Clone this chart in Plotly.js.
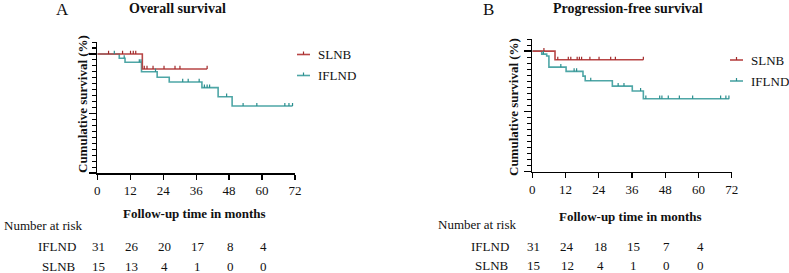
<!DOCTYPE html>
<html>
<head>
<meta charset="utf-8">
<script src="https://cdn.plot.ly/plotly-3.0.1.min.js"></script>
<style>html,body{margin:0;padding:0;background:#fff;}#chart{width:789px;height:273px;}</style>
</head>
<body>
<div id="chart"></div>
<script>
// ---------- data ----------
// Overall survival (panel A)
var osSlnbTimes = [0, 16.4, 40.0];
var osSlnbSurv  = [100, 87.4, 87.4];
var osSlnbCens  = [4.1, 9.2, 12.1, 13.1, 14.0, 17.1, 18.1, 20.3, 24.3, 28.3, 30.1, 40.0];
var osIflndTimes = [0, 8.0, 10.1, 16.1, 21.8, 26.2, 38.1, 44.0, 49.1, 71.1];
var osIflndSurv  = [100, 96.4, 93.0, 85.1, 80.4, 76.5, 71.7, 64.1, 56.3, 56.3];
var osIflndCens  = [6.2, 9.8, 15.3, 15.9, 21.2, 31.1, 33.1, 37.1, 39.0, 40.0, 40.9, 47.1, 53.1, 58.1, 68.3, 69.8, 71.1];

// Progression-free survival (panel B)
var pfsSlnbTimes = [0, 8.2, 40.1];
var pfsSlnbSurv  = [100, 92.8, 92.8];
var pfsSlnbCens  = [4.2, 9.2, 13.0, 13.9, 16.2, 17.0, 17.8, 20.8, 24.1, 28.3, 30.0, 40.1];
var pfsIflndTimes = [0, 3.4, 5.2, 6.0, 12.2, 18.3, 19.1, 28.9, 36.1, 40.1, 71.1];
var pfsIflndSurv  = [100, 97.5, 95.9, 86.7, 83.2, 79.3, 75.4, 71.0, 66.9, 60.5, 60.5];
var pfsIflndCens  = [4.0, 10.3, 15.1, 16.0, 21.1, 31.0, 33.1, 39.1, 41.0, 46.0, 46.8, 49.1, 53.1, 57.9, 68.0, 69.9, 71.0];

// numbers at risk
var riskTimes = [0, 12, 24, 36, 48, 60];
var osRiskIflnd = [31, 26, 20, 17, 8, 4];
var osRiskSlnb  = [15, 13, 4, 1, 0, 0];
var pfsRiskIflnd = [31, 24, 18, 15, 7, 4];
var pfsRiskSlnb  = [15, 12, 4, 1, 0, 0];

var groupNames = ['SLNB', 'IFLND'];
var xTickVals = [0, 12, 24, 36, 48, 60, 72];

// ---------- styles ----------
var RED = '#b84545', RED_T = '#a02a2a';
var TEAL = '#4ea6a6', TEAL_T = '#2a8d8d';
var FONT = 'Liberation Serif';
var W = 789, H = 273;
function px(x) { return x / W; }
function py(y) { return 1 - y / H; }

function levelAt(times, surv, t) {
  var s = surv[0];
  for (var i = 0; i < times.length; i++) { if (times[i] <= t) s = surv[i]; }
  return s;
}
function stepTrace(times, surv, color, xa, ya) {
  return {x: times, y: surv, type: 'scatter', mode: 'lines', line: {shape: 'hv', color: color, width: 1.6},
          xaxis: xa, yaxis: ya, showlegend: false, hoverinfo: 'skip'};
}
function censTrace(cens, times, surv, color, xa, ya) {
  var xs = [], ys = [];
  cens.forEach(function (t) {
    var s = levelAt(times, surv, t);
    xs.push(t, t, null); ys.push(s, s + 2.6, null);
  });
  return {x: xs, y: ys, type: 'scatter', mode: 'lines', line: {color: color, width: 1.2},
          xaxis: xa, yaxis: ya, showlegend: false, hoverinfo: 'skip'};
}

var data = [
  stepTrace(osIflndTimes, osIflndSurv, TEAL, 'x', 'y'),
  stepTrace(osSlnbTimes, osSlnbSurv, RED, 'x', 'y'),
  censTrace(osIflndCens, osIflndTimes, osIflndSurv, TEAL_T, 'x', 'y'),
  censTrace(osSlnbCens, osSlnbTimes, osSlnbSurv, RED_T, 'x', 'y'),
  stepTrace(pfsIflndTimes, pfsIflndSurv, TEAL, 'x2', 'y2'),
  stepTrace(pfsSlnbTimes, pfsSlnbSurv, RED, 'x2', 'y2'),
  censTrace(pfsIflndCens, pfsIflndTimes, pfsIflndSurv, TEAL_T, 'x2', 'y2'),
  censTrace(pfsSlnbCens, pfsSlnbTimes, pfsSlnbSurv, RED_T, 'x2', 'y2')
];

function xAxis(domain, anchor) {
  return {domain: domain, anchor: anchor, range: [0, 72], tickmode: 'array', tickvals: xTickVals,
    ticks: 'outside', ticklen: 5, tickwidth: 1.3, tickcolor: '#000', showline: true, linecolor: '#000', linewidth: 1.5,
    showgrid: false, zeroline: false, showticklabels: true, tickfont: {family: FONT, size: 13, color: '#111'}, fixedrange: true};
}
function yAxis(domain, anchor) {
  return {domain: domain, anchor: anchor, range: [0, 110.05], tickmode: 'linear', tick0: 0, dtick: 50,
    ticks: 'outside', ticklen: 7, tickwidth: 1.3, tickcolor: '#000',
    minor: {ticks: 'outside', dtick: 5, tick0: 0, ticklen: 4, tickwidth: 1.1, tickcolor: '#000', showgrid: false},
    showline: true, linecolor: '#000', linewidth: 1.5, showgrid: false, zeroline: false, showticklabels: false, fixedrange: true};
}

var ann = [];
function txt(text, x, y, opts) {
  var a = {text: text, x: px(x), y: py(y), xref: 'paper', yref: 'paper', showarrow: false,
    font: {family: FONT, size: 13, color: '#111'}, xanchor: 'center', yanchor: 'middle'};
  for (var k in opts) a[k] = opts[k];
  ann.push(a);
}
// panel letters & titles
txt('A', 62, 10, {font: {family: FONT, size: 17, color: '#111'}});
txt('<b>Overall survival</b>', 177, 8, {font: {family: FONT, size: 14, color: '#111'}});
txt('B', 488, 10, {font: {family: FONT, size: 17, color: '#111'}});
txt('<b>Progression-free survival</b>', 628, 8, {font: {family: FONT, size: 14, color: '#111'}});
// axis titles
txt('<b>Cumulative survival (%)</b>', 82, 104, {textangle: -90, font: {family: FONT, size: 13, color: '#111'}});
txt('<b>Cumulative survival (%)</b>', 514, 107, {textangle: -90, font: {family: FONT, size: 13, color: '#111'}});
txt('<b>Follow-up time in months</b>', 194, 213, {font: {family: FONT, size: 13, color: '#111'}});
txt('<b>Follow-up time in months</b>', 630, 216, {font: {family: FONT, size: 13, color: '#111'}});
// number at risk
txt('Number at risk', 2, 225, {xanchor: 'left'});
txt('Number at risk', 436, 224, {xanchor: 'left'});
txt(groupNames[1], 78, 246, {xanchor: 'right'});
txt(groupNames[0], 78, 266, {xanchor: 'right'});
txt(groupNames[1], 511, 246, {xanchor: 'right'});
txt(groupNames[0], 511, 265, {xanchor: 'right'});
function riskRow(vals, xref, y, dx) {
  vals.forEach(function (v, i) {
    ann.push({text: String(v), x: riskTimes[i] + dx, xref: xref, y: py(y), yref: 'paper', showarrow: false,
      font: {family: FONT, size: 13, color: '#111'}, xanchor: 'center', yanchor: 'middle'});
  });
}
riskRow(osRiskIflnd, 'x', 246, 0.6);
riskRow(osRiskSlnb, 'x', 266, 0.6);
riskRow(pfsRiskIflnd, 'x2', 246, 0.6);
riskRow(pfsRiskSlnb, 'x2', 265, 0.6);

// legends (drawn)
var shapes = [];
function legendItem(x0, y, color, tcolor, label) {
  shapes.push({type: 'line', xref: 'paper', yref: 'paper', x0: px(x0), x1: px(x0 + 13), y0: py(y), y1: py(y),
    line: {color: color, width: 1.6}});
  shapes.push({type: 'line', xref: 'paper', yref: 'paper', x0: px(x0 + 6.5), x1: px(x0 + 6.5), y0: py(y), y1: py(y - 3),
    line: {color: tcolor, width: 1.2}});
  txt(label, x0 + 19, y, {xanchor: 'left'});
}
legendItem(297, 54.5, RED, RED_T, groupNames[0]);
legendItem(297, 75.5, TEAL, TEAL_T, groupNames[1]);
legendItem(730, 60, RED, RED_T, groupNames[0]);
legendItem(730, 81, TEAL, TEAL_T, groupNames[1]);

var layout = {
  width: W, height: H, autosize: false,
  margin: {l: 0, r: 0, t: 0, b: 0, pad: 0},
  paper_bgcolor: '#fff', plot_bgcolor: '#fff', showlegend: false,
  font: {family: FONT, size: 13, color: '#111'},
  xaxis: xAxis([px(97.3), px(295)], 'y'),
  yaxis: yAxis([py(173), py(42)], 'x'),
  xaxis2: xAxis([px(532.3), px(731.7)], 'y2'),
  yaxis2: yAxis([py(171.7), py(39)], 'x2'),
  annotations: ann, shapes: shapes
};
Plotly.newPlot('chart', data, layout, {staticPlot: true, displayModeBar: false});
</script>
</body>
</html>
